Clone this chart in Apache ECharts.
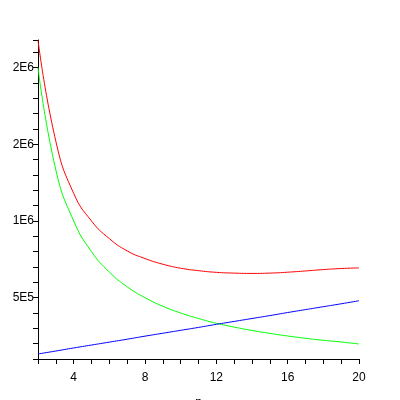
<!DOCTYPE html><html><head><script src="https://cdn.jsdelivr.net/npm/echarts@6/dist/echarts.min.js"></script></head><body style="margin:0"><div id="c" style="width:400px;height:400px"></div><script>
const p=[2,3,4,5,6,7,8,9,10,11,12,13,14,15,16,17,18,19,20];
const red=[2180,1520,1180,1000,885,805,755,718,692,676,665,660,658,660,666,674,683,690,694];
const green=[2000,1333,1000,800,667,571,500,444,400,364,333,308,286,267,250,235,222,211,198];
const blue=[133,152,172,191,210,229,249,268,287,306,326,345,364,383,403,422,441,460,480];
const yLabels={500000:'5E5',1000000:'1E6',1500000:'2E6',2000000:'2E6'};
const mk=(d,c)=>({type:'line',data:p.map((x,i)=>[x,d[i]*1000]),smooth:true,symbol:'none',lineStyle:{color:c,width:1}});
const ch=echarts.init(document.getElementById('c'));
ch.setOption({animation:false,backgroundColor:'#fff',
grid:{left:38,right:41,top:40,bottom:41,containLabel:false,outerBoundsMode:'none'},
xAxis:{type:'value',min:2,max:20,interval:1,name:'p',nameLocation:'middle',nameGap:32,nameTextStyle:{color:'#000',fontSize:12,fontFamily:'Liberation Sans'},
axisLine:{lineStyle:{color:'#000'}},axisTick:{length:5,lineStyle:{color:'#000'}},splitLine:{show:false},
axisLabel:{color:'#000',fontSize:12,fontFamily:'Liberation Sans',formatter:v=>v%4===0?String(v):''}},
yAxis:{type:'value',min:100000,max:2180000,interval:100000,axisLine:{show:true,lineStyle:{color:'#000'}},axisTick:{length:5,lineStyle:{color:'#000'}},splitLine:{show:false},
axisLabel:{color:'#000',fontSize:12,fontFamily:'Liberation Sans',margin:4,formatter:v=>yLabels[v]||''}},
series:[mk(red,'#ff0000'),mk(green,'#00ff00'),mk(blue,'#0000ff')]});
</script></body></html>
